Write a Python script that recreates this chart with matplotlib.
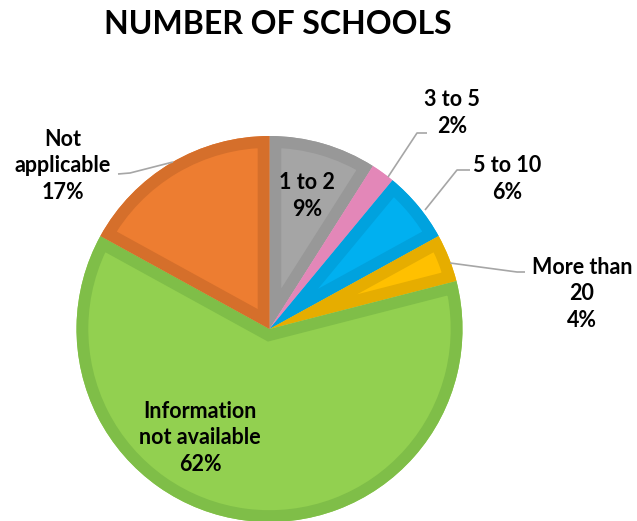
import matplotlib
matplotlib.use("Agg")
import matplotlib.pyplot as plt
from matplotlib.patches import PathPatch

plt.rcParams['font.family'] = ['Lato', 'DejaVu Sans']

# share of schools by count
categories = ['1 to 2', '3 to 5', '5 to 10', 'More than\n20', 'Information\nnot available', 'Not\napplicable']
shares = [9, 2, 6, 4, 62, 17]
face_colors = ['#A5A5A5', '#F08CC4', '#00B0F0', '#FFC000', '#92D050', '#ED7D31']
edge_colors = ['#989898', '#E387B8', '#00A2DE', '#E6AD00', '#7FBE48', '#D56F2B']

W, H = 637, 521
fig = plt.figure(figsize=(W / 100, H / 100), dpi=100)
ax = fig.add_axes([0, 0, 1, 1])

cx, cy, r = 269.5, H - 329, 193
wedges, _ = ax.pie(shares, center=(cx, cy), radius=r, startangle=90,
                   counterclock=False, colors=face_colors,
                   wedgeprops=dict(linewidth=0))
ax.set_xlim(0, W)
ax.set_ylim(0, H)
ax.set_aspect('equal')
ax.axis('off')

# darker rim drawn inside each slice
for w, ec in zip(wedges, edge_colors):
    rim = PathPatch(w.get_path(), transform=w.get_transform(), facecolor='none',
                    edgecolor=ec, lw=17, joinstyle='miter')
    ax.add_patch(rim)
    rim.set_clip_path(w)

def lbl(i, x, y):
    txt = '%s\n%d%%' % (categories[i], shares[i])
    ax.text(x, H - y, txt, ha='center', va='center', fontsize=15.5,
            fontweight='bold', linespacing=1.35, color='#000000')

lbl(0, 307, 196)
lbl(1, 452, 113)
lbl(2, 507, 179)
lbl(3, 582, 294)
lbl(4, 200, 438)
lbl(5, 63, 166)

# leader lines for the outside labels
leaders = [
    [(427, 133), (417, 133), (388, 177)],
    [(470, 170), (457, 170), (425, 210)],
    [(525, 272), (517, 272), (450, 263)],
    [(118, 174), (130, 173), (173, 162)],
]
for pts in leaders:
    xs = [p[0] for p in pts]
    ys = [H - p[1] for p in pts]
    ax.plot(xs, ys, color='#A6A6A6', lw=1.2, solid_capstyle='butt')

fig.text(278 / W, 1 - 24 / H, 'NUMBER OF SCHOOLS', ha='center', va='center',
         fontsize=23, fontweight='bold')

fig.savefig('out.png', dpi=100)
